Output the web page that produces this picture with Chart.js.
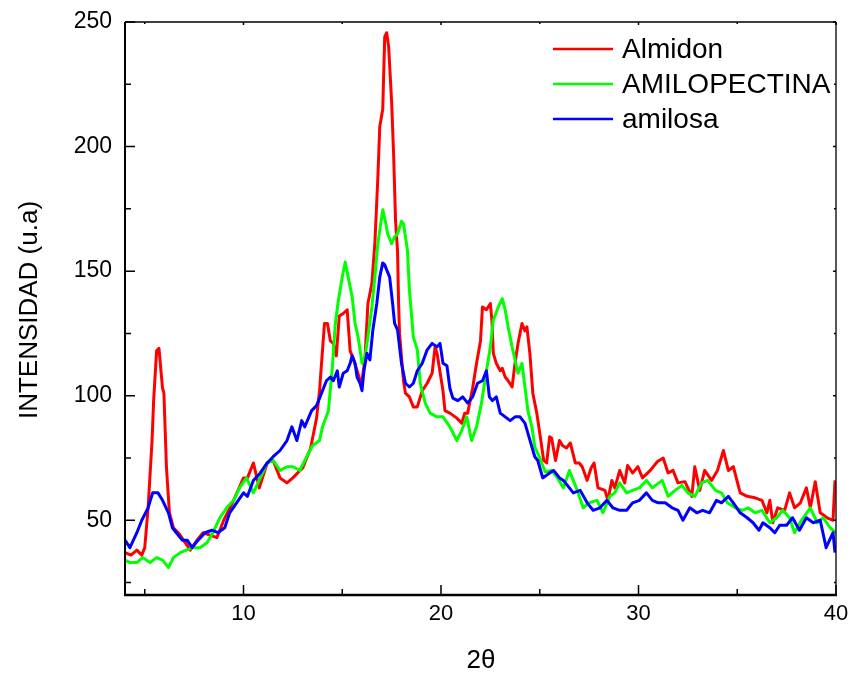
<!DOCTYPE html>
<html>
<head>
<meta charset="utf-8">
<script src="https://cdn.jsdelivr.net/npm/chart.js@4.4.1/dist/chart.umd.min.js"></script>
<style>
  html, body { margin: 0; padding: 0; background: #fff; }
  #wrap { width: 850px; height: 673px; position: relative; }
</style>
</head>
<body>
<div id="wrap"><canvas id="xrd"></canvas></div>
<script>
// series labels / colours
const seriesNames = ['Almidon', 'AMILOPECTINA', 'amilosa'];
const seriesColors = ['#ff0000', '#00ff00', '#0000ff'];

// axis ticks
const xTicks = [10, 20, 30, 40];
const xMinorTicks = [5, 15, 25, 35];
const yTicks = [50, 100, 150, 200, 250];
const yMinorTicks = [25, 75, 125, 175, 225];

// Almidon (red)
const almidonX = [4.0, 4.3, 4.6, 4.85, 5.0, 5.17, 5.37, 5.45, 5.6, 5.72, 5.9, 5.97, 6.1, 6.25, 6.45, 6.7, 7.05, 7.3, 7.65, 7.95,
  8.3, 8.65, 9.0, 9.5, 10.0, 10.2, 10.5, 10.8, 11.2, 11.5, 11.85, 12.2, 12.5, 12.86, 13.0, 13.4, 13.7, 13.85, 14.1, 14.25,
  14.4, 14.55, 14.7, 14.85, 15.05, 15.25, 15.4, 15.55, 15.75, 15.9, 16.0, 16.15, 16.3, 16.5, 16.65, 16.8, 16.9, 17.05, 17.15, 17.25,
  17.35, 17.5, 17.6, 17.7, 17.8, 17.85, 17.9, 18.1, 18.2, 18.4, 18.6, 18.8, 19.05, 19.3, 19.55, 19.7, 19.8, 20.1, 20.2, 20.45,
  20.8, 21.05, 21.2, 21.35, 21.6, 21.8, 22.0, 22.1, 22.3, 22.5, 22.58, 22.65, 22.8, 23.0, 23.1, 23.25, 23.4, 23.6, 23.75, 23.9,
  24.1, 24.25, 24.35, 24.5, 24.65, 24.85, 25.0, 25.2, 25.35, 25.5, 25.6, 25.8, 26.0, 26.15, 26.35, 26.55, 26.8, 27.0, 27.15, 27.4,
  27.6, 27.75, 27.95, 28.3, 28.45, 28.65, 28.8, 29.05, 29.3, 29.45, 29.7, 29.97, 30.2, 30.6, 30.95, 31.25, 31.5, 31.75, 32.0, 32.35,
  32.7, 32.85, 33.1, 33.35, 33.7, 34.0, 34.3, 34.55, 34.8, 35.15, 35.5, 35.9, 36.25, 36.5, 36.65, 36.8, 37.05, 37.4, 37.65, 37.9,
  38.2, 38.5, 38.7, 38.95, 39.2, 39.55, 39.85, 39.95];
const almidonY = [37, 36, 38, 36, 39, 55, 82, 98, 118, 119, 103, 101, 71, 53, 47, 45, 41, 38, 42, 45,
  44, 43, 50, 58, 67, 67, 73, 63, 73, 74, 67, 65, 67, 70, 71, 79, 91, 102, 129, 129,
  122, 121, 116, 132, 133, 134.5, 118, 115, 110, 106, 106, 115, 137, 145, 161, 187, 208, 215, 244, 245.7,
  240, 218, 197, 170, 158, 138, 125, 106, 101, 99.5, 95.5, 95.5, 102, 105, 109, 119.6, 117, 102, 94, 93,
  91, 89, 93, 93, 103, 113, 122, 135.6, 134.5, 137, 130, 117, 113, 110, 111, 107.5, 106, 103.5, 113, 121,
  129, 126, 127.6, 117, 101, 93, 85, 74, 73, 83.5, 83, 74, 82, 80, 79, 81, 73, 73, 71.5, 66,
  71, 73, 63, 62, 58, 66, 63, 70, 65, 72, 69, 71.5, 67, 70, 73.5, 75, 69, 70, 65, 65.5,
  59.6, 71.5, 62, 70, 66, 70, 78, 70, 71.5, 61, 59.6, 59, 58, 53, 58, 49, 55, 54, 61, 55,
  57, 63, 55, 65.5, 53, 51, 50, 66];

// AMILOPECTINA (green)
const amilopectinaX = [4.0, 4.25, 4.6, 4.9, 5.27, 5.6, 5.9, 6.2, 6.45, 6.8, 7.1, 7.45, 7.8, 8.15, 8.45, 8.8, 9.15, 9.5, 9.8, 10.15,
  10.5, 10.85, 11.2, 11.5, 11.85, 12.2, 12.5, 12.85, 13.2, 13.5, 13.85, 14.0, 14.3, 14.5, 14.65, 14.8, 15.0, 15.15, 15.3, 15.5,
  15.65, 15.8, 16.0, 16.15, 16.3, 16.5, 16.65, 16.8, 17.0, 17.05, 17.2, 17.3, 17.5, 17.65, 17.8, 18.0, 18.1, 18.3, 18.4, 18.6,
  18.8, 18.95, 19.2, 19.45, 19.8, 20.1, 20.45, 20.8, 21.05, 21.3, 21.55, 21.8, 22.05, 22.3, 22.5, 22.65, 22.9, 23.1, 23.25, 23.4,
  23.6, 23.75, 23.9, 24.1, 24.25, 24.4, 24.6, 24.75, 25.0, 25.27, 25.6, 25.9, 26.2, 26.5, 26.9, 27.2, 27.5, 27.9, 28.2, 28.55,
  28.8, 29.05, 29.4, 29.7, 30.05, 30.4, 30.7, 31.2, 31.5, 31.85, 32.2, 32.5, 32.85, 33.2, 33.5, 33.9, 34.2, 34.5, 34.9, 35.25,
  35.55, 35.9, 36.25, 36.65, 37.0, 37.3, 37.65, 37.9, 38.25, 38.7, 39.05, 39.35, 39.7, 40.0];
const amilopectinaY = [34, 33, 33, 35, 33, 35, 34, 31, 35, 37, 38, 39, 39, 41, 45, 51, 55, 58, 63, 67,
  61, 67, 73, 74, 70, 71.5, 71.5, 70, 75.5, 80, 82, 87.5, 94, 111.6, 129, 138, 147.6, 153.7, 147.6, 139.7,
  129, 123.6, 113, 115.6, 123.6, 135.6, 147.6, 161, 171.8, 174.6, 169.4, 165, 161, 163.8, 165, 170, 169, 158.5, 142.5, 123.6,
  118.4, 105, 97, 93, 91.5, 91.5, 87.5, 82, 86, 91.5, 82, 87.5, 97, 110, 119.6, 130.4, 135.6, 139, 134.5, 127.6,
  119.6, 114.4, 109, 113, 103.5, 94, 87.5, 79.5, 75, 69.5, 70, 67, 63, 70, 62, 55, 57, 58, 53, 59.6,
  61, 65, 61, 62, 63, 66, 63, 66, 59.6, 62, 64, 61, 59.6, 65, 66, 62, 61, 57, 55, 54,
  55, 53, 54, 49, 51, 54, 51, 45, 50, 55, 49, 51, 47, 45];

// amilosa (blue)
const amilosaX = [4.0, 4.25, 4.6, 4.85, 5.17, 5.4, 5.67, 5.9, 6.2, 6.4, 6.6, 6.9, 7.15, 7.4, 7.7, 8.05, 8.4, 8.7, 9.05, 9.3,
  9.65, 10.0, 10.2, 10.5, 10.85, 11.2, 11.5, 11.85, 12.2, 12.45, 12.7, 12.95, 13.1, 13.45, 13.7, 13.95, 14.2, 14.4, 14.55, 14.75,
  14.85, 15.05, 15.25, 15.4, 15.5, 15.65, 15.75, 15.9, 16.0, 16.1, 16.25, 16.4, 16.55, 16.75, 16.9, 17.05, 17.15, 17.25, 17.4, 17.55,
  17.65, 17.8, 18.0, 18.2, 18.4, 18.6, 18.8, 19.05, 19.3, 19.55, 19.8, 19.95, 20.1, 20.3, 20.45, 20.6, 20.85, 21.1, 21.35, 21.6,
  21.85, 22.1, 22.3, 22.45, 22.6, 22.8, 23.0, 23.25, 23.5, 23.75, 24.0, 24.25, 24.4, 24.6, 24.75, 24.9, 25.15, 25.5, 25.7, 26.0,
  26.2, 26.5, 26.7, 27.05, 27.4, 27.7, 28.05, 28.4, 28.7, 29.05, 29.4, 29.7, 30.05, 30.4, 30.7, 31.0, 31.35, 31.7, 32.0, 32.25,
  32.6, 32.95, 33.25, 33.6, 33.95, 34.2, 34.55, 34.8, 35.15, 35.5, 35.8, 36.1, 36.3, 36.65, 36.9, 37.15, 37.5, 37.8, 38.15, 38.5,
  38.85, 39.2, 39.5, 39.85, 39.95];
const amilosaY = [42, 39, 45, 50, 55, 61, 61, 58, 53, 47, 45, 42, 42, 39, 42, 45, 46, 45, 47, 53,
  57, 61, 59.6, 66, 69, 73, 75.5, 78, 82, 87.5, 82, 90, 87.5, 94, 96, 101, 106, 107.5, 106, 110,
  103.5, 109, 110, 113, 116, 113, 107.5, 105, 102, 110, 117, 114.4, 126.4, 137, 147.6, 153.3, 152.5, 150.5, 147.6, 137,
  129, 126.4, 113, 105, 103.5, 105, 110, 113, 118.4, 121, 119.6, 121, 113, 112, 103, 99, 98, 99.5, 97, 99.5,
  105, 106, 110, 99.5, 98, 99.5, 93, 91.5, 90, 91.5, 91.5, 89, 85, 79.5, 75.5, 74, 67, 69, 70, 67,
  66, 63, 61, 62, 57, 54, 55, 58, 55, 54, 54, 57, 58, 61, 58, 57, 57, 55, 54, 50,
  55, 53, 54, 53, 58, 57, 59.6, 57, 53, 51, 49, 46, 49, 47, 45, 48, 48, 51, 46, 51,
  49, 50, 39, 45, 37];

const FONT = '"Liberation Sans", Arial, sans-serif';

function toPoints(xs, ys) {
    return xs.map((x, i) => ({ x: x, y: ys[i] }));
}

// frame, inward ticks, axis titles and legend
const decorPlugin = {
    id: 'decor',
    afterDraw(chart) {
        const ctx = chart.ctx;
        const a = chart.chartArea;
        const xs = chart.scales.x;
        const ys = chart.scales.y;
        ctx.save();
        ctx.strokeStyle = '#000';

        // box
        ctx.lineWidth = 1.3;
        ctx.beginPath();
        ctx.moveTo(a.left, a.top); ctx.lineTo(a.right, a.top);
        ctx.moveTo(a.right, a.top); ctx.lineTo(a.right, a.bottom);
        ctx.stroke();
        ctx.lineWidth = 2;
        ctx.beginPath();
        ctx.moveTo(a.left, a.top); ctx.lineTo(a.left, a.bottom);
        ctx.stroke();
        ctx.lineWidth = 2.5;
        ctx.beginPath();
        ctx.moveTo(a.left - 1, a.bottom); ctx.lineTo(a.right + 1, a.bottom);
        ctx.stroke();

        // ticks
        ctx.lineWidth = 1.5;
        ctx.beginPath();
        xTicks.forEach(v => {
            const p = xs.getPixelForValue(v);
            ctx.moveTo(p, a.bottom); ctx.lineTo(p, a.bottom - 10);
            ctx.moveTo(p, a.top); ctx.lineTo(p, a.top + 3);
        });
        xMinorTicks.forEach(v => {
            const p = xs.getPixelForValue(v);
            ctx.moveTo(p, a.bottom); ctx.lineTo(p, a.bottom - 6);
            ctx.moveTo(p, a.top); ctx.lineTo(p, a.top + 2);
        });
        yTicks.forEach(v => {
            const p = ys.getPixelForValue(v);
            ctx.moveTo(a.left, p); ctx.lineTo(a.left + 10, p);
            ctx.moveTo(a.right, p); ctx.lineTo(a.right - 3, p);
        });
        yMinorTicks.forEach(v => {
            const p = ys.getPixelForValue(v);
            ctx.moveTo(a.left, p); ctx.lineTo(a.left + 6, p);
            ctx.moveTo(a.right, p); ctx.lineTo(a.right - 2, p);
        });
        ctx.stroke();

        // axis titles
        ctx.fillStyle = '#000';
        ctx.font = '26px ' + FONT;
        ctx.textAlign = 'center';
        ctx.textBaseline = 'middle';
        ctx.fillText('2\u03b8', 481, 661);
        ctx.save();
        ctx.translate(30, 310);
        ctx.rotate(-Math.PI / 2);
        ctx.fillText('INTENSIDAD (u.a)', 0, 0);
        ctx.restore();

        // legend
        ctx.font = '28px ' + FONT;
        ctx.textAlign = 'left';
        seriesNames.forEach((name, i) => {
            const y = 49 + i * 35;
            ctx.strokeStyle = seriesColors[i];
            ctx.lineWidth = 2.5;
            ctx.beginPath();
            ctx.moveTo(553, y); ctx.lineTo(613, y);
            ctx.stroke();
            ctx.fillStyle = '#000';
            ctx.fillText(name, 622, y + 1);
        });
        ctx.restore();
    }
};

const ctx = document.getElementById('xrd').getContext('2d');
new Chart(ctx, {
    type: 'line',
    data: {
        datasets: [
            { label: seriesNames[0], data: toPoints(almidonX, almidonY), borderColor: seriesColors[0], order: 3 },
            { label: seriesNames[1], data: toPoints(amilopectinaX, amilopectinaY), borderColor: seriesColors[1], order: 2 },
            { label: seriesNames[2], data: toPoints(amilosaX, amilosaY), borderColor: seriesColors[2], order: 1 }
        ]
    },
    options: {
        responsive: true,
        maintainAspectRatio: false,
        animation: false,
        devicePixelRatio: 1,
        layout: { padding: { left: 0, top: 22, right: 14, bottom: 0 } },
        elements: {
            line: { borderWidth: 3, tension: 0, borderJoinStyle: 'round' },
            point: { radius: 0 }
        },
        plugins: { legend: { display: false }, tooltip: { enabled: false } },
        scales: {
            x: {
                type: 'linear',
                min: 4,
                max: 40,
                afterBuildTicks: s => { s.ticks = xTicks.map(v => ({ value: v })); },
                afterFit: s => { s.height = 78; s.paddingLeft = 0; s.paddingRight = 0; },
                grid: { display: false, drawTicks: false },
                border: { display: false },
                ticks: { color: '#000', font: { family: FONT, size: 22 }, padding: 6, maxRotation: 0 }
            },
            y: {
                type: 'linear',
                min: 20,
                max: 250,
                afterBuildTicks: s => { s.ticks = yTicks.map(v => ({ value: v })); },
                afterFit: s => { s.width = 125; s.paddingTop = 0; s.paddingBottom = 0; },
                grid: { display: false, drawTicks: false },
                border: { display: false },
                ticks: { color: '#000', font: { family: FONT, size: 23 }, padding: 13 }
            }
        }
    },
    plugins: [decorPlugin]
});
</script>
</body>
</html>
